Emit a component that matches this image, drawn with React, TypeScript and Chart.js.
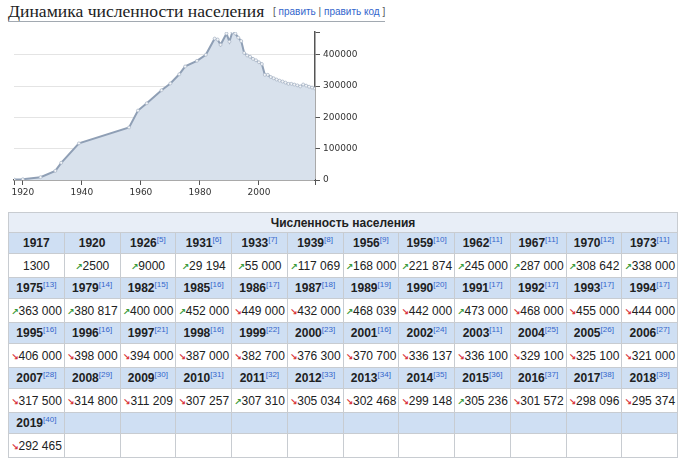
import React, { useEffect, useRef } from 'react';
import { Chart, registerables } from 'chart.js';

Chart.register(...registerables);

const heading = 'Динамика численности населения';
const tableTitle = 'Численность населения';

const years = [
  1917, 1920, 1926, 1931, 1933, 1939, 1956, 1959, 1962, 1967, 1970, 1973,
  1975, 1979, 1982, 1985, 1986, 1987, 1989, 1990, 1991, 1992, 1993, 1994,
  1995, 1996, 1997, 1998, 1999, 2000, 2001, 2002, 2003, 2004, 2005, 2006,
  2007, 2008, 2009, 2010, 2011, 2012, 2013, 2014, 2015, 2016, 2017, 2018,
  2019,
];

const population = [
  1300, 2500, 9000, 29194, 55000, 117069, 168000, 221874, 245000, 287000, 308642, 338000,
  363000, 380817, 400000, 452000, 449000, 432000, 468039, 442000, 473000, 468000, 455000, 444000,
  406000, 398000, 394000, 387000, 382700, 376300, 370700, 336137, 336100, 329100, 325100, 321000,
  317500, 314800, 311209, 307257, 307310, 305034, 302468, 299148, 305236, 301572, 298096, 295374,
  292465,
];

const refs: (number | null)[] = [
  null, null, 5, 6, 7, 8, 9, 10, 11, 11, 12, 11,
  13, 14, 15, 16, 17, 18, 19, 20, 17, 17, 17, 17,
  16, 16, 21, 16, 22, 23, 16, 24, 11, 25, 26, 27,
  28, 29, 30, 31, 32, 33, 34, 35, 36, 37, 38, 39,
  40,
];

const xTickLabels = [1920, 1940, 1960, 1980, 2000];
const yTickLabels = [0, 100000, 200000, 300000, 400000];

const COLS = 12;

function fmt(n: number): string {
  const s = String(n);
  return n >= 10000 ? s.replace(/\B(?=(\d{3})+(?!\d))/g, '\u00a0') : s;
}

function PopChart() {
  const ref = useRef<HTMLCanvasElement | null>(null);
  useEffect(() => {
    if (!ref.current) return;
    const yMax = Math.max(...population);
    const xMin = years[0];
    const xMax = years[years.length - 1];
    const chart = new Chart(ref.current, {
      type: 'line',
      data: {
        datasets: [
          {
            data: years.map((x, i) => ({ x, y: population[i] })),
            fill: 'origin',
            backgroundColor: '#d8e1ec',
            borderColor: '#8f9fb5',
            borderWidth: 2,
            pointRadius: 1.5,
            pointBorderWidth: 0.7,
            pointBackgroundColor: '#f3f5f8',
            pointBorderColor: '#a6b3c4',
            tension: 0,
          },
        ],
      },
      options: {
        animation: false,
        responsive: false,
        maintainAspectRatio: false,
        devicePixelRatio: 1,
        layout: { padding: { left: 14, top: 12, right: 0, bottom: 0 } },
        plugins: { legend: { display: false }, tooltip: { enabled: false } },
        scales: {
          x: {
            type: 'linear',
            min: xMin,
            max: xMax,
            afterBuildTicks: (s: any) => {
              s.ticks = [xMin, ...xTickLabels, xMax].map((v) => ({ value: v }));
            },
            afterFit: (s: any) => {
              s.height = 25;
            },
            grid: { drawOnChartArea: false, tickLength: 5, tickColor: '#555', tickWidth: 1 },
            border: { color: '#555', width: 1.5 },
            ticks: {
              autoSkip: false,
              maxRotation: 0,
              padding: 2,
              color: '#333',
              font: { family: 'DejaVu Sans', size: 9 },
              callback: (v: any) => (xTickLabels.includes(v) ? String(v) : ''),
            },
          },
          y: {
            type: 'linear',
            position: 'right',
            min: 0,
            max: yMax,
            afterBuildTicks: (s: any) => {
              s.ticks = [...yTickLabels, yMax].map((v) => ({ value: v }));
            },
            afterFit: (s: any) => {
              s.width = 55;
            },
            grid: {
              color: (c: any) =>
                c.tick && c.tick.value !== 0 && yTickLabels.includes(c.tick.value)
                  ? '#e4e4e4'
                  : 'rgba(0,0,0,0)',
              tickLength: 5,
              tickColor: '#555',
              tickWidth: 1,
            },
            border: { color: '#555', width: 1.5 },
            ticks: {
              autoSkip: false,
              padding: 3,
              color: '#333',
              font: { family: 'DejaVu Sans', size: 9 },
              callback: (v: any) => (yTickLabels.includes(v) ? String(v) : ''),
            },
          },
        },
      },
    } as any);
    return () => chart.destroy();
  }, []);
  return (
    <canvas
      ref={ref}
      width={370}
      height={185}
      style={{ position: 'absolute', left: 0, top: 20, width: 370, height: 185 }}
    />
  );
}

const border = '1px solid #c8ccd1';

function PopTable() {
  const rows: number[][] = [];
  for (let i = 0; i < years.length; i += COLS) {
    const r: number[] = [];
    for (let j = 0; j < COLS; j++) r.push(i + j);
    rows.push(r);
  }
  const yearCell: React.CSSProperties = {
    border,
    background: '#cfdff3',
    height: 20,
    padding: 0,
    textAlign: 'center',
    fontWeight: 'bold',
    fontSize: 12,
    color: '#202122',
  };
  const valCell: React.CSSProperties = {
    border,
    background: '#ffffff',
    height: 23,
    padding: 0,
    textAlign: 'center',
    fontSize: 12,
    color: '#202122',
  };
  return (
    <table
      style={{
        position: 'absolute',
        left: 8,
        top: 212,
        width: 670,
        borderCollapse: 'collapse',
        tableLayout: 'fixed',
        fontFamily: '"Liberation Sans", Arial, sans-serif',
      }}
    >
      <tbody>
        <tr>
          <td
            colSpan={COLS}
            style={{
              border,
              background: '#e8eef7',
              height: 19,
              padding: 0,
              textAlign: 'center',
              fontWeight: 'bold',
              fontSize: 12,
              color: '#202122',
            }}
          >
            {tableTitle}
          </td>
        </tr>
        {rows.map((r, ri) => (
          <React.Fragment key={ri}>
            <tr>
              {r.map((idx) => (
                <td key={idx} style={yearCell}>
                  {idx < years.length ? (
                    <>
                      {years[idx]}
                      {refs[idx] != null ? (
                        <sup
                          style={{
                            fontSize: 8,
                            fontWeight: 'normal',
                            color: '#3366cc',
                            lineHeight: 1,
                            verticalAlign: 'super',
                          }}
                        >
                          [{refs[idx]}]
                        </sup>
                      ) : null}
                    </>
                  ) : null}
                </td>
              ))}
            </tr>
            <tr>
              {r.map((idx) => {
                if (idx >= years.length) return <td key={idx} style={valCell} />;
                const prev = idx > 0 ? population[idx - 1] : null;
                const up = prev != null && population[idx] > prev;
                return (
                  <td key={idx} style={valCell}>
                    {prev != null ? (
                      <span
                        style={{
                          fontFamily: '"DejaVu Sans", sans-serif',
                          fontSize: 9,
                          color: up ? '#3a9a3a' : '#d9343a',
                          fontWeight: 'bold',
                        }}
                      >
                        {up ? '\u2197' : '\u2198'}
                      </span>
                    ) : null}
                    {fmt(population[idx])}
                  </td>
                );
              })}
            </tr>
          </React.Fragment>
        ))}
      </tbody>
    </table>
  );
}

export default function App() {
  return (
    <div
      style={{
        position: 'absolute',
        left: 0,
        top: 0,
        width: 700,
        height: 463,
        background: '#ffffff',
        overflow: 'hidden',
      }}
    >
      <div
        style={{
          position: 'absolute',
          left: 8,
          top: 0,
          fontFamily: '"Liberation Serif", serif',
          fontSize: 17.6,
          lineHeight: '22px',
          color: '#202122',
          whiteSpace: 'nowrap',
        }}
      >
        {heading}
      </div>
      <div
        style={{
          position: 'absolute',
          left: 273,
          top: 5,
          fontFamily: '"Liberation Sans", Arial, sans-serif',
          fontSize: 10,
          lineHeight: '14px',
          color: '#54595d',
          whiteSpace: 'nowrap',
        }}
      >
        [ <span style={{ color: '#3366cc' }}>править</span> |{' '}
        <span style={{ color: '#3366cc' }}>править код</span> ]
      </div>
      <div
        style={{
          position: 'absolute',
          left: 8,
          top: 21,
          width: 377,
          height: 1,
          background: '#a2a9b1',
        }}
      />
      <PopChart />
      <PopTable />
    </div>
  );
}
